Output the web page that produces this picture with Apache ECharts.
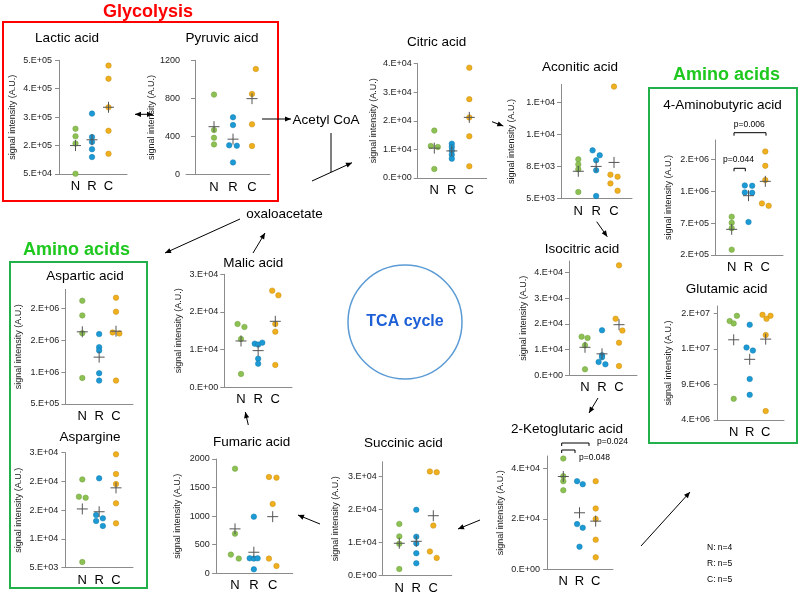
<!DOCTYPE html>
<html><head><meta charset="utf-8">
<script src="https://cdn.jsdelivr.net/npm/echarts@6/dist/echarts.min.js"></script>
<style>html,body{margin:0;padding:0;background:#fff}#c{width:800px;height:596px}</style>
</head><body><div id="c"></div><script>
const groups = ['N', 'R', 'C'];
const groupColors = ['#8dc153', '#1b9ad6', '#f0b01e'];
const groupBorders = ['#6e9f3c', '#137aab', '#c58d10'];
const yAxisName = 'signal intensity (A.U.)';

// ---- values ----
const lacticN = [229000, 199000, 171000, 51000];
const lacticR = [289000, 196000, 177000, 148000, 117000];
const lacticC = [479000, 427000, 314000, 221000, 130000];
const lacticTicks = [5e4, 1.625e5, 2.75e5, 3.875e5, 5e5];
const lacticLabels = ['5.E+04', '2.E+05', '3.E+05', '4.E+05', '5.E+05'];
const lacticRange = [5e4, 5e5];

const pyruvicN = [840, 469, 388, 318];
const pyruvicR = [602, 521, 308, 304, 129];
const pyruvicC = [1204, 1109, 847, 528, 301];
const pyruvicTicks = [0, 400, 800, 1200];
const pyruvicLabels = ['0', '400', '800', '1200'];
const pyruvicRange = [0, 1200];

const citricN = [16600, 11200, 10850, 3150];
const citricR = [12000, 10850, 9570, 8170, 6770];
const citricC = [38600, 27600, 21200, 14600, 4100];
const citricTicks = [0, 1e4, 2e4, 3e4, 4e4];
const citricLabels = ['0.E+00', '1.E+04', '2.E+04', '3.E+04', '4.E+04'];
const citricRange = [0, 4e4];

const aconiticN = [8060, 7670, 7290, 5520];
const aconiticR = [8760, 8380, 7990, 7210, 5210];
const aconiticC = [13720, 6870, 6710, 6190, 5620];
const aconiticTicks = [5000, 7500, 10000, 12500];
const aconiticLabels = ['5.E+03', '8.E+03', '1.E+04', '1.E+04'];
const aconiticRange = [5000, 13900];

const gabaN = [739000, 654000, 578000, 275000];
const gabaR = [1180000, 1175000, 1082000, 1076000, 664000];
const gabaC = [1658000, 1456000, 1255000, 927000, 893000];
const gabaTicks = [2e5, 6.5e5, 1.1e6, 1.55e6];
const gabaLabels = ['2.E+05', '7.E+05', '1.E+06', '2.E+06'];
const gabaRange = [2e5, 1.82e6];

const glutamicN = [18620000, 17880000, 17560000, 6970000];
const glutamicR = [17370000, 14170000, 13750000, 9760000, 7530000];
const glutamicC = [18760000, 18620000, 18200000, 15930000, 5250000];
const glutamicTicks = [4e6, 9e6, 1.4e7, 1.9e7];
const glutamicLabels = ['4.E+06', '9.E+06', '1.E+07', '2.E+07'];
const glutamicRange = [4e6, 2e7];

const isocitricN = [15040, 14530, 11690, 2340];
const isocitricR = [17530, 7790, 7000, 5180, 4280];
const isocitricC = [42800, 22000, 17400, 12700, 3600];
const isocitricTicks = [0, 1e4, 2e4, 3e4, 4e4];
const isocitricLabels = ['0.E+00', '1.E+04', '2.E+04', '3.E+04', '4.E+04'];
const isocitricRange = [0, 4.45e4];

const asparticN = [2121000, 1890000, 1612000, 909000];
const asparticR = [1597000, 1392000, 1339000, 983000, 867000];
const asparticC = [2168000, 1948000, 1623000, 1607000, 867000];
const asparticTicks = [5e5, 1e6, 1.5e6, 2e6];
const asparticLabels = ['5.E+05', '1.E+06', '2.E+06', '2.E+06'];
const asparticRange = [5e5, 2.3e6];

const aspargineN = [20360, 17350, 17170, 5990];
const aspargineR = [20540, 14160, 13120, 13580, 12250];
const aspargineC = [24710, 21290, 19550, 16190, 12710];
const aspargineTicks = [5e3, 1e4, 1.5e4, 2e4, 2.5e4];
const aspargineLabels = ['5.E+03', '1.E+04', '2.E+04', '2.E+04', '3.E+04'];
const aspargineRange = [5e3, 2.5e4];

const malicN = [16810, 16020, 12830, 3540];
const malicR = [11590, 11330, 11860, 7610, 6280];
const malicC = [25660, 24420, 16810, 14780, 5930];
const malicTicks = [0, 1e4, 2e4, 3e4];
const malicLabels = ['0.E+00', '1.E+04', '2.E+04', '3.E+04'];
const malicRange = [0, 3e4];

const fumaricN = [1831, 694, 327, 257];
const fumaricR = [991, 262, 257, 262, 70];
const fumaricC = [1685, 1674, 1213, 257, 128];
const fumaricTicks = [0, 500, 1000, 1500, 2000];
const fumaricLabels = ['0', '500', '1000', '1500', '2000'];
const fumaricRange = [0, 2000];

const succinicN = [15670, 11900, 9660, 2030];
const succinicR = [19940, 11800, 9770, 6800, 3760];
const succinicC = [31540, 31330, 15160, 7320, 5390];
const succinicTicks = [0, 1e4, 2e4, 3e4];
const succinicLabels = ['0.E+00', '1.E+04', '2.E+04', '3.E+04'];
const succinicRange = [0, 3.45e4];

const ketoN = [44000, 37000, 35000, 31400];
const ketoR = [35000, 33800, 17950, 16500, 8980];
const ketoC = [35000, 24160, 20000, 11750, 4750];
const ketoTicks = [0, 2e4, 4e4];
const ketoLabels = ['0.E+00', '2.E+04', '4.E+04'];
const ketoRange = [0, 4.5e4];

// horizontal spread of overlapping dots (x-offsets in group units)
const jitter = {
  pyruvic: [null, [0, 0, -0.2, 0.2, 0], [-0.2, 0.2, 0, 0, 0]],
  citric: [[0, -0.2, 0.2, 0], null, null],
  aconitic: [null, [-0.2, 0.2, 0, 0, 0], [0, -0.2, 0.2, -0.2, 0.2]],
  gaba: [null, [-0.22, 0.22, -0.22, 0.22, 0], [0, 0, 0, -0.2, 0.2]],
  glutamic: [[0.2, -0.25, 0, 0], [0, -0.2, 0.2, 0, 0], [-0.2, 0.3, 0.05, 0, 0]],
  isocitric: [[-0.2, 0.15, 0, 0], [0, 0, 0, -0.2, 0.2], [0, -0.2, 0.2, 0, 0]],
  aspartic: [null, null, [0, 0, -0.2, 0.2, 0]],
  aspargine: [[0, -0.2, 0.2, 0], [0, -0.18, -0.18, 0.22, 0.22], null],
  malic: [[-0.2, 0.2, 0, 0], [-0.2, 0, 0.24, 0, 0], [-0.18, 0.18, 0, 0, 0]],
  fumaric: [[0, 0, -0.22, 0.2], [0, -0.22, 0, 0.2, 0], [-0.2, 0.2, 0, -0.2, 0.2]],
  succinic: [null, null, [-0.2, 0.2, 0, -0.2, 0.2]],
  keto: [null, [-0.15, 0.2, -0.15, 0.2, 0], null]
};

// ---- layout (pixels) ----
const layout = {
  lactic:    {ax: 58,    top: 60.3,  bottom: 174,   xEnd: 127,   n: 75.5,  c: 108.5, tx: 67,    ty: 38,    nameX: 12},
  pyruvic:   {ax: 186,   top: 60.3,  bottom: 174.7, xEnd: 270,   n: 214,   c: 252,   tx: 222,   ty: 38,    nameX: 164},
  citric:    {ax: 417.7, top: 63.7,  bottom: 178,   xEnd: 486.7, n: 434.3, c: 469.3, tx: 436.7, ty: 42,    nameX: 373.3},
  aconitic:  {ax: 561,   top: 84.3,  bottom: 198.7, xEnd: 632,   n: 578.3, c: 614,   tx: 580,   ty: 67,    nameX: 510.7},
  gaba:      {ax: 715,   top: 140,   bottom: 255,   xEnd: 783,   n: 731.7, c: 765.3, tx: 722.5, ty: 105,   nameX: 667.7},
  glutamic:  {ax: 716,   top: 306,   bottom: 420,   xEnd: 784,   n: 733.7, c: 765.7, tx: 726.7, ty: 289.5, nameX: 667.7},
  isocitric: {ax: 569,   top: 261,   bottom: 375.3, xEnd: 637,   n: 585,   c: 619,   tx: 582,   ty: 249,   nameX: 522.7},
  aspartic:  {ax: 65.3,  top: 289.3, bottom: 404,   xEnd: 133,   n: 82.3,  c: 116,   tx: 85,    ty: 276,   nameX: 18.3},
  aspargine: {ax: 64.3,  top: 452.7, bottom: 567.7, xEnd: 133,   n: 82.3,  c: 116,   tx: 90,    ty: 437.5, nameX: 18.3},
  malic:     {ax: 224.3, top: 274.3, bottom: 387.3, xEnd: 292,   n: 241,   c: 275.3, tx: 253.3, ty: 263.5, nameX: 178.3},
  fumaric:   {ax: 215.7, top: 459,   bottom: 573.3, xEnd: 292.7, n: 235,   c: 272.7, tx: 251.7, ty: 442,   nameX: 177.3},
  succinic:  {ax: 382.7, top: 461.7, bottom: 575.7, xEnd: 451.7, n: 399.3, c: 433.3, tx: 403.3, ty: 443,   nameX: 335},
  keto:      {ax: 546,   top: 456,   bottom: 569.3, xEnd: 613,   n: 563.3, c: 595.7, tx: 567,   ty: 429,   nameX: 500}
};

const panels = [
  {key: 'lactic', title: 'Lactic acid', vals: [lacticN, lacticR, lacticC], ticks: lacticTicks, labels: lacticLabels, range: lacticRange},
  {key: 'pyruvic', title: 'Pyruvic aicd', vals: [pyruvicN, pyruvicR, pyruvicC], ticks: pyruvicTicks, labels: pyruvicLabels, range: pyruvicRange},
  {key: 'citric', title: 'Citric acid', vals: [citricN, citricR, citricC], ticks: citricTicks, labels: citricLabels, range: citricRange},
  {key: 'aconitic', title: 'Aconitic acid', vals: [aconiticN, aconiticR, aconiticC], ticks: aconiticTicks, labels: aconiticLabels, range: aconiticRange},
  {key: 'gaba', title: '4-Aminobutyric acid', vals: [gabaN, gabaR, gabaC], ticks: gabaTicks, labels: gabaLabels, range: gabaRange},
  {key: 'glutamic', title: 'Glutamic acid', vals: [glutamicN, glutamicR, glutamicC], ticks: glutamicTicks, labels: glutamicLabels, range: glutamicRange},
  {key: 'isocitric', title: 'Isocitric acid', vals: [isocitricN, isocitricR, isocitricC], ticks: isocitricTicks, labels: isocitricLabels, range: isocitricRange},
  {key: 'aspartic', title: 'Aspartic acid', vals: [asparticN, asparticR, asparticC], ticks: asparticTicks, labels: asparticLabels, range: asparticRange},
  {key: 'aspargine', title: 'Aspargine', vals: [aspargineN, aspargineR, aspargineC], ticks: aspargineTicks, labels: aspargineLabels, range: aspargineRange},
  {key: 'malic', title: 'Malic acid', vals: [malicN, malicR, malicC], ticks: malicTicks, labels: malicLabels, range: malicRange},
  {key: 'fumaric', title: 'Fumaric acid', vals: [fumaricN, fumaricR, fumaricC], ticks: fumaricTicks, labels: fumaricLabels, range: fumaricRange},
  {key: 'succinic', title: 'Succinic acid', vals: [succinicN, succinicR, succinicC], ticks: succinicTicks, labels: succinicLabels, range: succinicRange},
  {key: 'keto', title: '2-Ketoglutaric acid', vals: [ketoN, ketoR, ketoC], ticks: ketoTicks, labels: ketoLabels, range: ketoRange}
];

const FONT = '"Liberation Sans", Arial, Helvetica, sans-serif';
const AXIS = '#8c8c8c';
const grid = [], xAxis = [], yAxis = [], series = [];
const texts = [];

panels.forEach((p, i) => {
  const L = layout[p.key];
  const s = (L.c - L.n) / 2;
  grid.push({left: L.ax, top: L.top, width: L.xEnd - L.ax, height: L.bottom - L.top, containLabel: false});
  xAxis.push({
    gridIndex: i, type: 'value',
    min: 1 - (L.n - L.ax) / s, max: 3 + (L.xEnd - L.c) / s,
    splitLine: {show: false},
    axisLine: {show: true, lineStyle: {color: AXIS, width: 1}},
    axisTick: {show: false},
    axisLabel: {customValues: [1, 2, 3], formatter: v => groups[Math.round(v) - 1] || '',
      fontSize: 13, color: '#000', margin: 6, fontFamily: FONT}
  });
  const ticks = p.ticks, labels = p.labels;
  yAxis.push({
    gridIndex: i, type: 'value', min: p.range[0], max: p.range[1],
    splitLine: {show: false},
    axisLine: {show: true, lineStyle: {color: AXIS, width: 1}},
    axisTick: {show: true, customValues: ticks, length: 4, lineStyle: {color: AXIS}},
    axisLabel: {customValues: ticks, fontSize: 9, color: '#222', margin: 6, fontFamily: FONT,
      formatter: v => { const k = ticks.findIndex(t => Math.abs(t - v) <= 1e-6 * Math.max(1, Math.abs(t))); return k >= 0 ? labels[k] : ''; }},
    name: yAxisName, nameLocation: 'middle', nameGap: L.ax - L.nameX - 5,
    nameTextStyle: {fontSize: 9, color: '#222', fontFamily: FONT}
  });
  texts.push({type: 'text', x: L.tx, y: L.ty, style: {text: p.title, fontSize: 13.5, fontFamily: FONT, fill: '#000', align: 'center', verticalAlign: 'middle'}});
  const jit = jitter[p.key] || [null, null, null];
  p.vals.forEach((arr, g) => {
    series.push({
      type: 'scatter', name: groups[g], xAxisIndex: i, yAxisIndex: i, z: 3,
      symbol: 'circle', symbolSize: 5.5,
      itemStyle: {color: groupColors[g], borderColor: groupBorders[g], borderWidth: 0.5, opacity: 1},
      data: arr.map((v, k) => [g + 1 + (jit[g] ? jit[g][k] : 0), v]),
      silent: true
    });
  });
  const means = p.vals.map(arr => arr.reduce((a, b) => a + b, 0) / arr.length);
  series.push({
    type: 'custom', xAxisIndex: i, yAxisIndex: i, z: 5, silent: true,
    data: means.map((m, g) => [g + 1, m]),
    renderItem: (params, api) => {
      const pt = api.coord([api.value(0), api.value(1)]);
      const h = 5.5;
      return {type: 'group', children: [
        {type: 'line', shape: {x1: pt[0] - h, y1: pt[1], x2: pt[0] + h, y2: pt[1]}, style: {stroke: '#555', lineWidth: 1}},
        {type: 'line', shape: {x1: pt[0], y1: pt[1] - h, x2: pt[0], y2: pt[1] + h}, style: {stroke: '#555', lineWidth: 1}}
      ]};
    }
  });
});

function head(xa, ya, xb, yb) {
  const a = Math.atan2(yb - ya, xb - xa), Lh = 6, W = 2.6;
  const bx = xb - Lh * Math.cos(a), by = yb - Lh * Math.sin(a);
  return {type: 'polygon', shape: {points: [[xb, yb], [bx + W * Math.sin(a), by - W * Math.cos(a)], [bx - W * Math.sin(a), by + W * Math.cos(a)]]}, style: {fill: '#000'}};
}
function arrow(x1, y1, x2, y2, both) {
  const els = [{type: 'line', shape: {x1, y1, x2, y2}, style: {stroke: '#000', lineWidth: 1}}, head(x1, y1, x2, y2)];
  if (both) els.push(head(x2, y2, x1, y1));
  return els;
}
function bracket(x1, x2, y) {
  return {type: 'polyline', shape: {points: [[x1, y + 3], [x1, y], [x2, y], [x2, y + 3]]}, style: {stroke: '#000', lineWidth: 1, fill: null}};
}
function label(x, y, text, size, color, weight, align) {
  return {type: 'text', x, y, style: {text, fontSize: size, fontFamily: FONT, fill: color, fontWeight: weight || 'normal', align: align || 'center', verticalAlign: 'middle'}};
}

const elements = [
  {type: 'rect', shape: {x: 3, y: 22, width: 275, height: 179}, style: {fill: 'none', stroke: '#ff0000', lineWidth: 2}},
  {type: 'rect', shape: {x: 649, y: 88, width: 148, height: 355}, style: {fill: 'none', stroke: '#22b04a', lineWidth: 2}},
  {type: 'rect', shape: {x: 10, y: 262, width: 137, height: 326}, style: {fill: 'none', stroke: '#22b04a', lineWidth: 2}},
  {type: 'circle', shape: {cx: 405, cy: 322, r: 57}, style: {fill: 'none', stroke: '#5b9bd5', lineWidth: 1.5}},
  label(148, 12, 'Glycolysis', 18, '#ff0000', 'bold'),
  label(726.5, 75, 'Amino acids', 18, '#1ec81e', 'bold'),
  label(76.5, 250, 'Amino acids', 18, '#1ec81e', 'bold'),
  label(405, 322, 'TCA cycle', 16, '#1c5fd6', 'bold'),
  label(326, 120, 'Acetyl CoA', 13.5, '#000'),
  label(284.5, 214, 'oxaloacetate', 13.5, '#000'),
  label(707, 548, 'N: n=4', 8.5, '#000', 'normal', 'left'),
  label(707, 564, 'R: n=5', 8.5, '#000', 'normal', 'left'),
  label(707, 580, 'C: n=5', 8.5, '#000', 'normal', 'left'),
  bracket(734, 766, 132.7), label(749.3, 124.3, 'p=0.006', 8.5, '#000'),
  bracket(734, 745.3, 168.3), label(738.5, 160, 'p=0.044', 8.5, '#000'),
  bracket(561.7, 589, 443), label(597, 441.5, 'p=0.024', 8.5, '#000', 'normal', 'left'),
  bracket(561.7, 575, 450), label(579, 458, 'p=0.048', 8.5, '#000', 'normal', 'left'),
  {type: 'line', shape: {x1: 331, y1: 133, x2: 331, y2: 172}, style: {stroke: '#000', lineWidth: 1}}
].concat(
  arrow(135, 114.3, 153, 114.3, true),
  arrow(262, 119, 291, 119),
  arrow(312, 181, 352, 162.7),
  arrow(492, 121.7, 503.3, 126),
  arrow(596.7, 221.7, 607.3, 236.7),
  arrow(598, 398, 589, 413),
  arrow(480, 520, 458, 529),
  arrow(320, 524, 298, 515),
  arrow(248.3, 425, 245.3, 412),
  arrow(253, 253, 265, 233),
  arrow(240, 219, 165, 253),
  arrow(641, 546, 690, 492),
  texts
);

const chart = echarts.init(document.getElementById('c'), null, {renderer: 'canvas'});
chart.setOption({
  animation: false,
  backgroundColor: '#fff',
  textStyle: {fontFamily: FONT},
  grid, xAxis, yAxis, series,
  graphic: {elements: elements.map(e => Object.assign({silent: true}, e))}
});
</script></body></html>
